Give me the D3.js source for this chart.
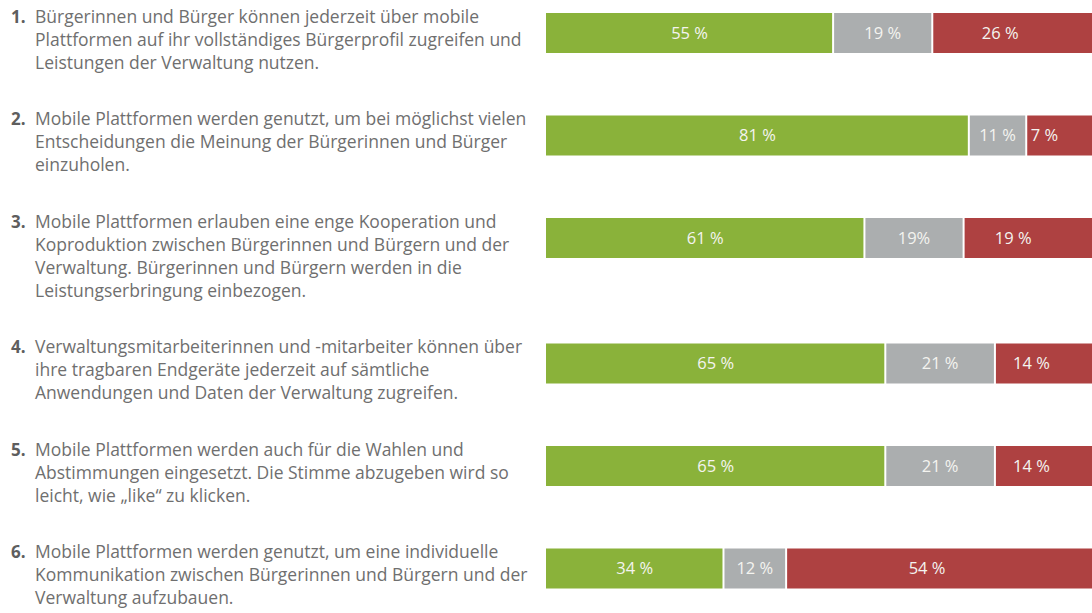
<!DOCTYPE html>
<html>
<head>
<meta charset="utf-8">
<script src="https://cdn.jsdelivr.net/npm/d3@7"></script>
<style>
  html, body { margin: 0; padding: 0; background: #fff; }
  svg { display: block; }
</style>
</head>
<body>
<svg id="chart" width="1092" height="613"></svg>
<script>
// ---- data ----
const itemNumbers = ["1.", "2.", "3.", "4.", "5.", "6."];
const statements = [
  ["Bürgerinnen und Bürger können jederzeit über mobile",
   "Plattformen auf ihr vollständiges Bürgerprofil zugreifen und",
   "Leistungen der Verwaltung nutzen."],
  ["Mobile Plattformen werden genutzt, um bei möglichst vielen",
   "Entscheidungen die Meinung der Bürgerinnen und Bürger",
   "einzuholen."],
  ["Mobile Plattformen erlauben eine enge Kooperation und",
   "Koproduktion zwischen Bürgerinnen und Bürgern und der",
   "Verwaltung. Bürgerinnen und Bürgern werden in die",
   "Leistungserbringung einbezogen."],
  ["Verwaltungsmitarbeiterinnen und -mitarbeiter können über",
   "ihre tragbaren Endgeräte jederzeit auf sämtliche",
   "Anwendungen und Daten der Verwaltung zugreifen."],
  ["Mobile Plattformen werden auch für die Wahlen und",
   "Abstimmungen eingesetzt. Die Stimme abzugeben wird so",
   "leicht, wie „like“ zu klicken."],
  ["Mobile Plattformen werden genutzt, um eine individuelle",
   "Kommunikation zwischen Bürgerinnen und Bürgern und der",
   "Verwaltung aufzubauen."]
];
const seriesNames = ["green", "gray", "red"];
const greenValues = [55, 81, 61, 65, 65, 34];
const grayValues  = [19, 11, 19, 21, 21, 12];
const redValues   = [26, 7, 19, 14, 14, 54];
const greenLabels = ["55 %", "81 %", "61 %", "65 %", "65 %", "34 %"];
const grayLabels  = ["19 %", "11 %", "19%", "21 %", "21 %", "12 %"];
const redLabels   = ["26 %", "7 %", "19 %", "14 %", "14 %", "54 %"];

// ---- layout ----
const W = 1092, H = 613;
const barX0 = 546, barX100 = 1068;
const barH = 40;
const lineH = 23;
const blockGap = 33.5;
const firstTop = 13;
const colors = { green: "#8ab23a", gray: "#abaeaf", red: "#ae4141" };
const font = "'Open Sans', 'Noto Sans', sans-serif";

const svg = d3.select("#chart");
const x = d3.scaleLinear().domain([0, 100]).range([barX0, barX100]);

// cumulative row tops
const tops = [];
let acc = firstTop;
statements.forEach((lines, i) => { tops.push(acc); acc += lines.length * lineH + blockGap; });

const rows = statements.map((lines, i) => {
  const vals = [greenValues[i], grayValues[i], redValues[i]];
  const labs = [greenLabels[i], grayLabels[i], redLabels[i]];
  let start = 0;
  const segs = vals.map((v, k) => {
    const s = { key: seriesNames[k], x0: start, x1: start + v, label: labs[k], last: k === vals.length - 1 };
    start += v;
    return s;
  });
  return { i, lines, top: tops[i], segs };
});

const g = svg.selectAll("g.row").data(rows).join("g").attr("class", "row");

// statement text
g.append("text")
  .attr("x", 11)
  .attr("y", d => d.top + 9.5)
  .attr("font-family", font)
  .attr("font-size", 17)
  .attr("font-weight", 700)
  .attr("fill", "#5e5e5e")
  .text(d => itemNumbers[d.i]);

g.each(function(d) {
  d3.select(this).selectAll("text.line").data(d.lines).join("text")
    .attr("class", "line")
    .attr("x", 35)
    .attr("y", (l, j) => d.top + 9.5 + j * lineH)
    .attr("font-family", font)
    .attr("font-size", 17.5)
    .attr("fill", "#6f6f6f")
    .text(l => l);
});

// bars
const gap = 2;
g.each(function(d) {
  const sel = d3.select(this);
  sel.selectAll("rect.seg").data(d.segs).join("rect")
    .attr("class", "seg")
    .attr("x", s => x(s.x0) + (s.x0 > 0 ? gap / 2 : 0))
    .attr("y", d.top)
    .attr("width", s => {
      const left = x(s.x0) + (s.x0 > 0 ? gap / 2 : 0);
      const right = s.last ? W : x(s.x1) - gap / 2;
      return right - left;
    })
    .attr("height", barH)
    .attr("fill", s => colors[s.key]);
  sel.selectAll("text.lab").data(d.segs).join("text")
    .attr("class", "lab")
    .attr("x", s => (x(s.x0) + x(s.x1)) / 2)
    .attr("y", d.top + barH / 2)
    .attr("dy", "0.36em")
    .attr("text-anchor", "middle")
    .attr("font-family", font)
    .attr("font-size", 16.5)
    .attr("fill", "#f4f4f0")
    .text(s => s.label);
});
</script>
</body>
</html>
